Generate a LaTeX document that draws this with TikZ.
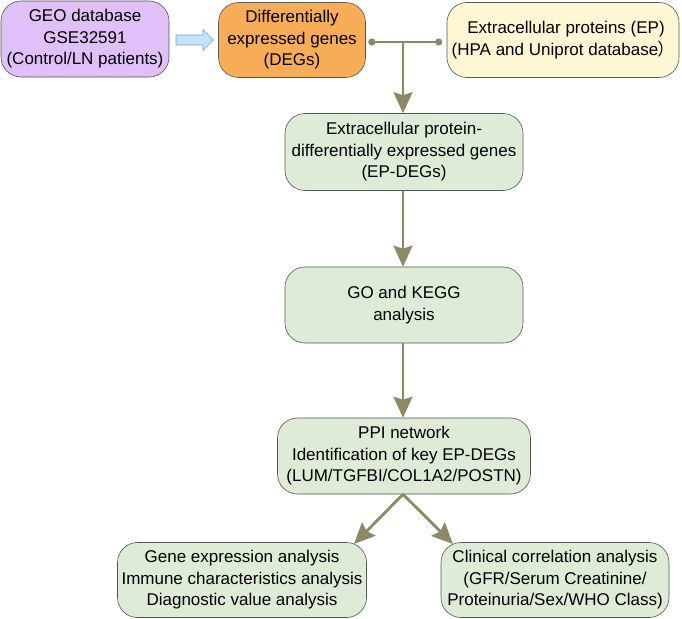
\documentclass[tikz,border=0pt]{standalone}
\usepackage{fontspec}
\setmainfont{Liberation Sans}
\newfontfamily\cjk{Noto Sans CJK SC}
\usetikzlibrary{arrows.meta}
\definecolor{purp}{HTML}{E0C0F8}
\definecolor{orng}{HTML}{F7AD58}
\definecolor{yell}{HTML}{FFF6D4}
\definecolor{grn}{HTML}{DDEBD7}
\definecolor{oliv}{HTML}{8C8964}
\definecolor{bordr}{HTML}{555555}
\definecolor{lblue}{HTML}{C4E2FA}
\definecolor{dblue}{HTML}{6FA6D8}
\begin{document}
\begin{tikzpicture}[x=1pt,y=-1pt,
  box/.style={draw=bordr,line width=0.6pt,rounded corners=20pt,align=center,
    font=\fontsize{17}{21.5}\selectfont,inner sep=0pt},
  flow/.style={draw=oliv,line width=2.8pt,-{Stealth[width=19pt,length=21pt,inset=3pt]}},
  dotline/.style={draw=oliv,line width=2.8pt},
]
\useasboundingbox (0,0) rectangle (682,618);
\node[box,fill=purp,minimum width=168pt,minimum height=76pt] (geo) at (85,39)
  {GEO database\\GSE32591\\(Control/LN patients)};
\node[box,fill=orng,minimum width=147pt,minimum height=75pt] (deg) at (292,40)
  {Differentially\\expressed genes\\(DEGs)};
\node[box,fill=yell,minimum width=232pt,minimum height=75pt] (ep) at (563,40)
  {\hspace*{6pt}Extracellular proteins (EP)\\(HPA and Uniprot database{\cjk\kern-1pt）}};
\node[box,fill=grn,minimum width=238pt,minimum height=77pt] (epdeg) at (404,152)
  {Extracellular protein-\\differentially expressed genes\\(EP-DEGs)};
\node[box,fill=grn,minimum width=238pt,minimum height=76pt] (go) at (404,305)
  {GO and KEGG\\analysis};
\node[box,fill=grn,minimum width=253pt,minimum height=76pt] (ppi) at (404,456)
  {PPI network\\Identification of key EP-DEGs\\(LUM/TGFBI/COL1A2/POSTN)};
\node[box,fill=grn,minimum width=249pt,minimum height=75pt] (gene) at (242,580)
  {Gene expression analysis\\Immune characteristics analysis\\Diagnostic value analysis};
\node[box,fill=grn,minimum width=228pt,minimum height=75pt] (clin) at (555,580)
  {Clinical correlation analysis\\(GFR/Serum Creatinine/\\Proteinuria/Sex/WHO Class)};
% blue block arrow
\draw[draw=dblue,fill=lblue,line width=0.7pt]
  (176,35) -- (203,35) -- (203,29.5) -- (213.5,40) -- (203,50.5) -- (203,45) -- (176,45) -- cycle;
% T connector
\coordinate (l) at ([xshift=6pt]deg.east);
\coordinate (r) at ([xshift=-8pt]ep.west);
\coordinate (j) at (403,42);
\draw[dotline] (l |- j) -- (r |- j);
\fill[oliv] (l |- j) circle (3.6pt) (r |- j) circle (3.6pt);
\draw[flow] (j) -- (epdeg.north -| j);
\draw[flow] (epdeg.south -| j) -- (go.north -| j);
\draw[flow] (go.south -| j) -- (ppi.north -| j);
\coordinate (pb) at (ppi.south -| j);
\draw[flow] (pb) -- (354,544);
\draw[flow] (pb) -- (453,544);
\end{tikzpicture}
\end{document}
